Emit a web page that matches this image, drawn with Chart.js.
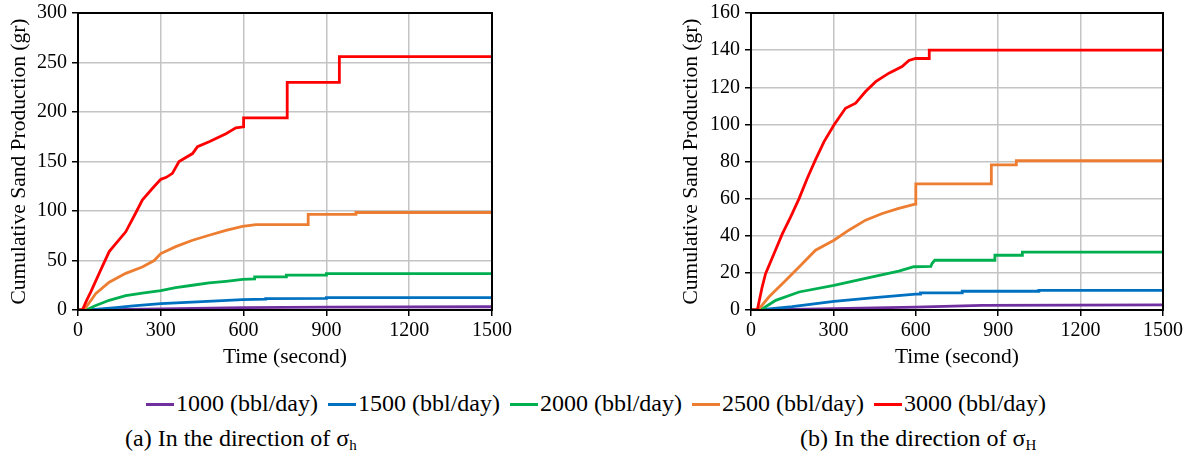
<!DOCTYPE html>
<html>
<head>
<meta charset="utf-8">
<script src="https://cdn.jsdelivr.net/npm/chart.js@4.4.1/dist/chart.umd.min.js"></script>
<style>
  body { margin: 0; background: #fff; font-family: 'Liberation Serif', 'Times New Roman', serif; }
  #wrap { position: relative; width: 1192px; height: 463px; overflow: hidden; }
  .plot { position: absolute; top: 0; }
  #legend { position: absolute; left: 0; width: 1192px; top: 390px; display: flex; justify-content: center; font-size: 24px; color: #000; }
  .item { display: flex; align-items: center; margin: 0 5px; white-space: nowrap; }
  .swatch { width: 28px; height: 3px; margin-right: 2px; margin-top: 2px; }
  .caption { position: absolute; top: 425px; font-size: 24px; color: #000; white-space: nowrap; }
  .caption sub { font-size: 15px; vertical-align: -4px; }
</style>
</head>
<body>
<div id="wrap">
  <canvas id="chartA" class="plot" width="520" height="370" style="left:0px"></canvas>
  <canvas id="chartB" class="plot" width="520" height="370" style="left:672px"></canvas>
  <div id="legend"></div>
  <div class="caption" style="left:125px">(a) In the direction of σ<sub>h</sub></div>
  <div class="caption" style="left:800px">(b) In the direction of σ<sub>H</sub></div>
</div>
<script>
const seriesNames = ['1000 (bbl/day)', '1500 (bbl/day)', '2000 (bbl/day)', '2500 (bbl/day)', '3000 (bbl/day)'];
const seriesColors = ['#7030A0', '#0070C0', '#00B050', '#ED7D31', '#FF0000'];

// (a) sigma_h direction — time (s) and cumulative sand (gr)
const a1000_t = [0, 60, 300, 600, 900, 1500];
const a1000_v = [0, 0, 1, 2.4, 3.0, 3.3];
const a1500_t = [0, 40, 137, 200, 300, 450, 596, 680, 680, 900, 900, 1500];
const a1500_v = [0, 0, 2.4, 4.2, 6.4, 8.5, 10.5, 11, 11.5, 11.8, 12.6, 12.6];
const a2000_t = [0, 30, 60, 113, 173, 233, 300, 354, 415, 475, 536, 596, 640, 640, 755, 755, 900, 900, 1500];
const a2000_v = [0, 0, 4, 9.8, 14.5, 17, 19.5, 22.5, 25, 27.3, 29, 31, 31.5, 33.4, 33.4, 35.3, 35.3, 36.8, 36.8];
const a2500_t = [0, 22, 64, 113, 173, 233, 276, 300, 354, 415, 475, 536, 596, 645, 834, 834, 1007, 1007, 1500];
const a2500_v = [0, 0, 16.5, 28, 37, 43.5, 50, 57, 64, 70.5, 75.5, 80.5, 84.5, 86.3, 86.3, 96.5, 96.5, 98.5, 98.5];
const a3000_t = [0, 16, 30, 46, 80, 113, 140, 173, 209, 233, 270, 300, 320, 342, 366, 415, 433, 475, 536, 572, 600, 600, 758, 758, 947, 947, 1500];
const a3000_v = [0, 0, 9, 18, 39, 59, 68, 79, 98, 111, 123, 132, 134, 138, 150, 158, 165, 170, 178, 184, 185, 194, 194, 230, 230, 256, 256];

// (b) sigma_H direction
const b1000_t = [0, 40, 302, 599, 841, 1500];
const b1000_v = [0, 0, 0.7, 1.6, 2.5, 2.8];
const b1500_t = [0, 30, 150, 302, 450, 599, 617, 617, 769, 769, 1048, 1048, 1500];
const b1500_v = [0, 0, 1.8, 4.7, 6.7, 8.5, 8.6, 9.2, 9.2, 10.1, 10.1, 10.6, 10.6];
const b2000_t = [0, 35, 90, 175, 302, 417, 538, 593, 655, 659, 669, 888, 888, 988, 988, 1500];
const b2000_v = [0, 0, 5.2, 9.7, 13.3, 17, 21, 23.3, 23.5, 25, 26.8, 26.8, 29.5, 29.5, 31.2, 31.2];
const b2500_t = [0, 26, 65, 114, 175, 235, 302, 356, 417, 478, 538, 597, 600, 600, 875, 875, 966, 966, 1500];
const b2500_v = [0, 0, 7, 14.2, 23.2, 32.2, 37.6, 43, 48.4, 52, 54.7, 57, 57, 68, 68, 78.2, 78.2, 80.4, 80.4];
const b3000_t = [0, 23, 40, 53, 84, 114, 144, 175, 205, 235, 266, 302, 344, 381, 417, 454, 502, 550, 575, 599, 649, 649, 1500];
const b3000_v = [0, 0, 12, 19.6, 30.4, 41, 50, 60, 71, 81, 90.7, 99.7, 108.7, 111.4, 117.7, 123, 127.6, 131.2, 134.4, 135.5, 135.5, 140, 140];

const xTicks = [0, 300, 600, 900, 1200, 1500];
const yMaxA = 300, yStepA = 50;
const yMaxB = 160, yStepB = 20;

Chart.defaults.font.family = "'Liberation Serif', 'Times New Roman', serif";
Chart.defaults.color = '#000';

function pairs(ts, vs) {
    return ts.map((t, i) => ({ x: t, y: vs[i] }));
}

function makeDatasets(groups) {
    return groups.map((g, i) => ({
        label: seriesNames[i],
        data: pairs(g[0], g[1]),
        borderColor: seriesColors[i],
        borderWidth: 2.8,
        pointRadius: 0,
        tension: 0,
        fill: false,
        order: 5 - i
    }));
}

// black box around the plot area
const frame = {
    id: 'frame',
    afterDraw(chart) {
        const { ctx, chartArea: a } = chart;
        ctx.save();
        ctx.strokeStyle = '#000';
        ctx.lineWidth = 2;
        ctx.strokeRect(a.left, a.top, a.right - a.left, a.bottom - a.top);
        ctx.restore();
    }
};

function makeChart(id, groups, yMax, yStep, yWidth, padRight) {
    return new Chart(document.getElementById(id).getContext('2d'), {
        type: 'line',
        data: { datasets: makeDatasets(groups) },
        options: {
            responsive: false,
            animation: false,
            layout: { padding: { top: 13, right: padRight, bottom: 0, left: 0 } },
            plugins: { legend: { display: false }, tooltip: { enabled: false } },
            scales: {
                x: {
                    type: 'linear', min: 0, max: 1500,
                    afterBuildTicks: s => { s.ticks = xTicks.map(v => ({ value: v })); },
                    // keep the end labels from shrinking the plot area
                    afterFit: s => { s.height = 60; s.paddingLeft = 0; s.paddingRight = 0; },
                    ticks: { font: { size: 20 }, padding: 3, maxRotation: 0, callback: v => String(v) },
                    grid: { color: '#c4c4c4', lineWidth: 1.5, tickColor: '#000', tickLength: 6, tickWidth: 1.5 },
                    border: { color: '#000', width: 2 },
                    title: { display: true, text: 'Time (second)', font: { size: 21.5 }, padding: { top: 0, bottom: 0 } }
                },
                y: {
                    min: 0, max: yMax,
                    afterFit: s => { s.width = yWidth; s.paddingTop = 0; s.paddingBottom = 0; },
                    ticks: { stepSize: yStep, font: { size: 20 }, padding: 5, callback: v => String(v) },
                    grid: { color: '#c4c4c4', lineWidth: 1.5, tickColor: '#000', tickLength: 6, tickWidth: 1.5 },
                    border: { color: '#000', width: 2 },
                    title: { display: true, text: 'Cumulative Sand Production (gr)', font: { size: 21.5 }, padding: { top: 6, bottom: 0 } }
                }
            }
        },
        plugins: [frame]
    });
}

makeChart('chartA', [[a1000_t, a1000_v], [a1500_t, a1500_v], [a2000_t, a2000_v], [a2500_t, a2500_v], [a3000_t, a3000_v]], yMaxA, yStepA, 78, 28);
makeChart('chartB', [[b1000_t, b1000_v], [b1500_t, b1500_v], [b2000_t, b2000_v], [b2500_t, b2500_v], [b3000_t, b3000_v]], yMaxB, yStepB, 79, 29);

// shared legend under both plots
const legend = document.getElementById('legend');
seriesNames.forEach((name, i) => {
    const item = document.createElement('div');
    item.className = 'item';
    item.innerHTML = '<span class="swatch" style="background:' + seriesColors[i] + '"></span><span>' + name + '</span>';
    legend.appendChild(item);
});
</script>
</body>
</html>
